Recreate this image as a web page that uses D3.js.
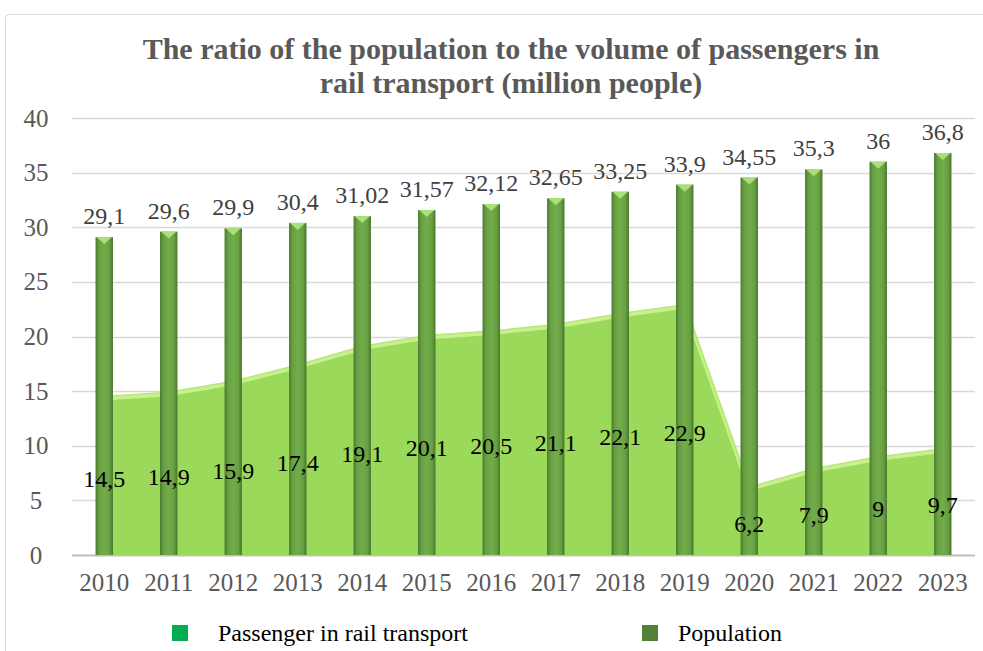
<!DOCTYPE html>
<html>
<head>
<meta charset="utf-8">
<script src="https://cdn.jsdelivr.net/npm/d3@7"></script>
<style>
  body { margin: 0; background: #fff; }
  svg text { font-family: "Times New Roman", "Liberation Serif", "DejaVu Serif", serif; }
</style>
</head>
<body>
<svg id="chart" width="983" height="651"></svg>
<script>
// data
const years = ["2010","2011","2012","2013","2014","2015","2016","2017","2018","2019","2020","2021","2022","2023"];
const population = [29.1, 29.6, 29.9, 30.4, 31.02, 31.57, 32.12, 32.65, 33.25, 33.9, 34.55, 35.3, 36, 36.8];
const passengers = [14.5, 14.9, 15.9, 17.4, 19.1, 20.1, 20.5, 21.1, 22.1, 22.9, 6.2, 7.9, 9, 9.7];
const yTicks = [0, 5, 10, 15, 20, 25, 30, 35, 40];

const fmt = v => String(v).replace(".", ",");

const svg = d3.select("#chart");
const plotL = 72, plotR = 975, plotT = 118, plotB = 555;

// outer border
svg.append("rect")
  .attr("x", 5.5).attr("y", 14.5).attr("rx", 4)
  .attr("width", 990).attr("height", 650)
  .attr("fill", "none").attr("stroke", "#d9d9d9");

const x = d3.scaleBand().domain(years).range([plotL, plotR]).paddingInner(0.73).paddingOuter(0.365);
const xc = d => x(d) + x.bandwidth() / 2;
const y = d3.scaleLinear().domain([0, 40]).range([plotB, plotT]);

const defs = svg.append("defs");
const g = defs.append("linearGradient").attr("id", "barGrad").attr("x1", 0).attr("x2", 1).attr("y1", 0).attr("y2", 0);
g.append("stop").attr("offset", "0%").attr("stop-color", "#4a7a2e");
g.append("stop").attr("offset", "20%").attr("stop-color", "#68a043");
g.append("stop").attr("offset", "50%").attr("stop-color", "#72ad4a");
g.append("stop").attr("offset", "80%").attr("stop-color", "#68a043");
g.append("stop").attr("offset", "100%").attr("stop-color", "#47752c");

// title
svg.append("text").attr("x", 511).attr("y", 59).attr("text-anchor", "middle")
  .attr("font-size", 30).attr("font-weight", "bold").attr("fill", "#595959")
  .text("The ratio of the population to the volume of passengers in");
svg.append("text").attr("x", 511).attr("y", 93).attr("text-anchor", "middle")
  .attr("font-size", 30).attr("font-weight", "bold").attr("fill", "#595959")
  .text("rail transport (million people)");

// grid
svg.append("g").selectAll("line").data(yTicks).join("line")
  .attr("x1", plotL).attr("x2", plotR)
  .attr("y1", d => Math.round(y(d)) + 0.5).attr("y2", d => Math.round(y(d)) + 0.5)
  .attr("stroke", d => d === 0 ? "#bfbfbf" : "#d9d9d9").attr("stroke-width", d => d === 0 ? 2 : 1.3);

// y axis labels
const yAxis = d3.axisLeft(y).tickValues(yTicks).tickSize(0).tickPadding(0);
svg.append("g").attr("transform", `translate(${plotL - 36},0)`).call(yAxis)
  .attr("font-family", null)
  .call(s => s.select(".domain").remove())
  .selectAll("text").attr("font-size", 25).attr("fill", "#595959")
  .attr("text-anchor", "middle");

// x axis labels
const xAxis = d3.axisBottom(x).tickSize(0).tickPadding(18);
svg.append("g").attr("transform", `translate(0,${plotB})`).call(xAxis)
  .attr("font-family", null)
  .call(s => s.select(".domain").remove())
  .selectAll("text").attr("font-size", 25).attr("fill", "#595959");

// passenger area (behind bars)
const area = d3.area().x((d, i) => xc(years[i])).y0(y(0)).y1(d => y(d));
const line = d3.line().x((d, i) => xc(years[i])).y(d => y(d));
svg.append("path").datum(passengers).attr("d", area).attr("fill", "#9ad95a");
svg.append("path").datum(passengers).attr("d", line)
  .attr("fill", "none").attr("stroke", "#c9f08f").attr("stroke-width", 4)
  .attr("transform", "translate(0,2)");
svg.append("path").datum(passengers).attr("d", line)
  .attr("fill", "none").attr("stroke", "#b8e878").attr("stroke-width", 1.5);

// population bars
svg.append("g").selectAll("rect").data(population).join("rect")
  .attr("x", (d, i) => x(years[i]))
  .attr("y", d => y(d))
  .attr("width", x.bandwidth())
  .attr("height", d => y(0) - y(d))
  .attr("fill", "url(#barGrad)");
// top bevel
svg.append("g").selectAll("path").data(population).join("path")
  .attr("d", (d, i) => {
    const x0 = x(years[i]), w = x.bandwidth(), t = y(d);
    return `M${x0 + 1},${t}L${x0 + w - 1},${t}L${x0 + w / 2},${t + 7}Z`;
  })
  .attr("fill", "#a9e07a");

// bar labels
svg.append("g").selectAll("text").data(population).join("text")
  .attr("x", (d, i) => xc(years[i]))
  .attr("y", d => y(d) - 13)
  .attr("text-anchor", "middle").attr("font-size", 24).attr("fill", "#404040")
  .text(fmt);

// area labels (centred at half height)
svg.append("g").selectAll("text").data(passengers).join("text")
  .attr("x", (d, i) => xc(years[i]))
  .attr("y", d => y(d / 2) + 11)
  .attr("text-anchor", "middle").attr("font-size", 24).attr("fill", "#000")
  .text(fmt);

// legend
const legend = [
  { name: "Passenger in rail transport", color: "#00b050", x: 172, tx: 46 },
  { name: "Population", color: "#538135", x: 642, tx: 36 }
];
const lg = svg.append("g").selectAll("g").data(legend).join("g")
  .attr("transform", d => `translate(${d.x},625)`);
lg.append("rect").attr("width", 16).attr("height", 16).attr("fill", d => d.color);
lg.append("text").attr("x", d => d.tx).attr("y", 16).attr("font-size", 24).attr("fill", "#000")
  .text(d => d.name);
</script>
</body>
</html>
